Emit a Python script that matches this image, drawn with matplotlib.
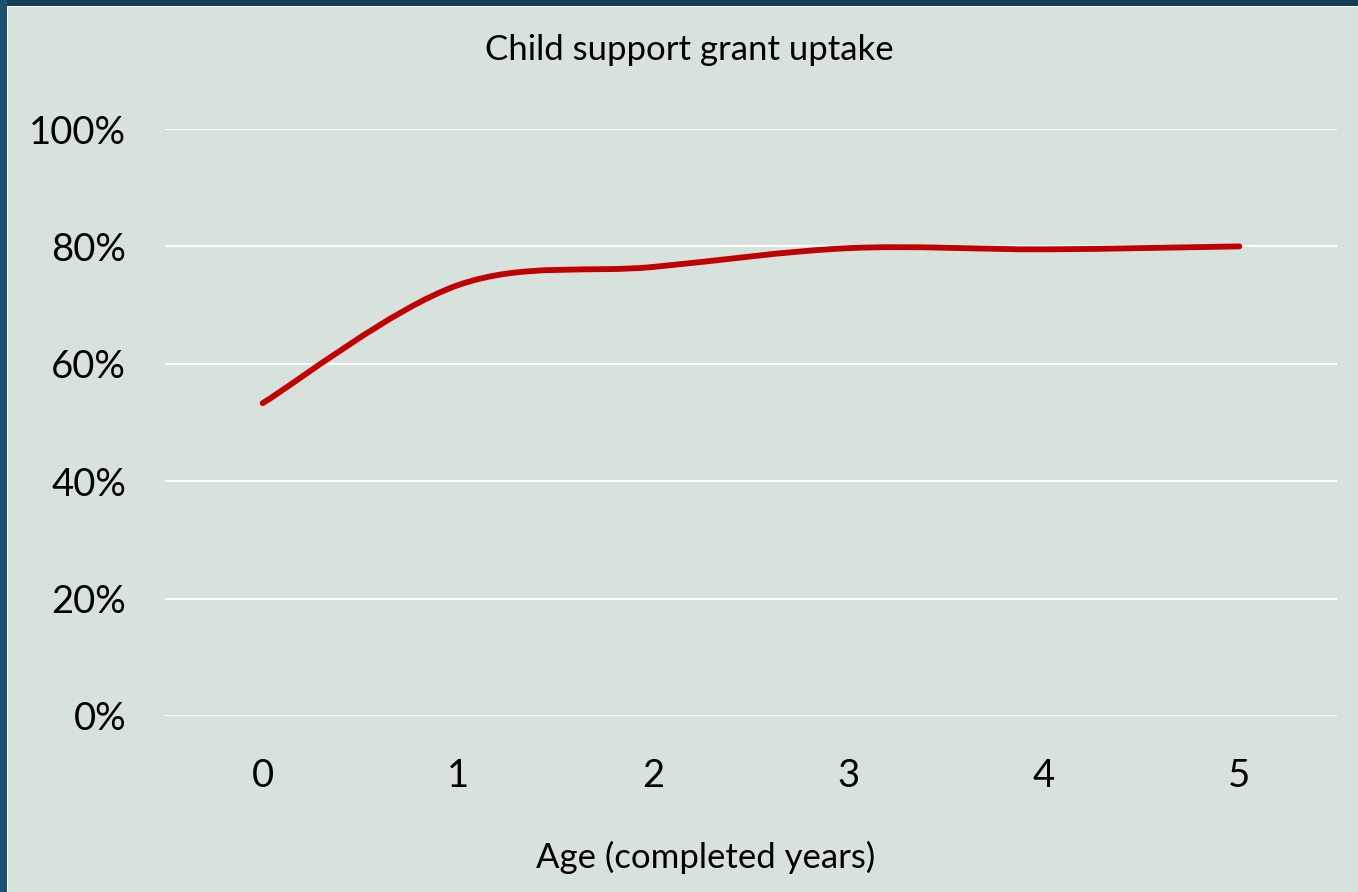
import matplotlib
matplotlib.use("Agg")
import matplotlib.pyplot as plt
from matplotlib.patches import Rectangle, PathPatch
from matplotlib.path import Path
from matplotlib.ticker import FuncFormatter

# Child support grant uptake by age
ages = [0, 1, 2, 3, 4, 5]
age_labels = ["0", "1", "2", "3", "4", "5"]
uptake = [0.533, 0.734, 0.765, 0.797, 0.795, 0.800]

BG = "#d8e2dd"
LINE = "#c00000"

W, H = 1358, 892
fig = plt.figure(figsize=(W / 100, H / 100), dpi=100)
fig.patch.set_facecolor("#143f57")
plt.rcParams["font.family"] = ["Lato", "DejaVu Sans"]

# frame: dark band on top and left, a thin white rule, then the chart area
fig.patches.append(Rectangle((0, 0), 7 / W, 1, transform=fig.transFigure,
                             facecolor="#1a5270", edgecolor="none", zorder=-3))
fig.patches.append(Rectangle((7 / W, 0), 1, (H - 6) / H, transform=fig.transFigure,
                             facecolor="white", edgecolor="none", zorder=-2))
fig.patches.append(Rectangle((8 / W, 0), 1, (H - 7) / H, transform=fig.transFigure,
                             facecolor=BG, edgecolor="none", zorder=-1))

ax = fig.add_axes([165 / W, 176 / H, (1337 - 165) / W, (716 - 129) / H])
ax.set_zorder(2)
ax.set_facecolor("none")
ax.set_xlim(-0.5, 5.5)
ax.set_ylim(0, 1)
ax.set_yticks([0, 0.2, 0.4, 0.6, 0.8, 1.0])
ax.yaxis.set_major_formatter(FuncFormatter(lambda v, p: f"{v * 100:.0f}%"))
ax.set_xticks(ages)
ax.set_xticklabels(age_labels)
ax.grid(axis="y", color="white", linewidth=1.5)
ax.set_axisbelow(True)
for s in ax.spines.values():
    s.set_visible(False)
ax.tick_params(length=0, labelsize=27.5, colors="black")
ax.tick_params(axis="y", pad=28)
ax.tick_params(axis="x", pad=30)

# smoothed line (Catmull-Rom style Bezier through each point)
pts = list(zip(ages, uptake))
verts = [pts[0]]
codes = [Path.MOVETO]
n = len(pts)
for i in range(n - 1):
    p0 = pts[i - 1] if i > 0 else pts[i]
    p1 = pts[i]
    p2 = pts[i + 1]
    p3 = pts[i + 2] if i + 2 < n else pts[i + 1]
    c1 = (p1[0] + (p2[0] - p0[0]) / 6, p1[1] + (p2[1] - p0[1]) / 6)
    c2 = (p2[0] - (p3[0] - p1[0]) / 6, p2[1] - (p3[1] - p1[1]) / 6)
    verts += [c1, c2, p2]
    codes += [Path.CURVE4] * 3
ax.add_patch(PathPatch(Path(verts, codes), facecolor="none", edgecolor=LINE,
                       linewidth=4.2, capstyle="round", joinstyle="round", zorder=3))

fig.text(689 / W, 1 - 50 / H, "Child support grant uptake", ha="center", va="center",
         fontsize=25, zorder=5)
fig.text(706 / W, 1 - 857 / H, "Age (completed years)", ha="center", va="center",
         fontsize=25, zorder=5)

fig.savefig("out.png", dpi=100, facecolor=fig.get_facecolor())
